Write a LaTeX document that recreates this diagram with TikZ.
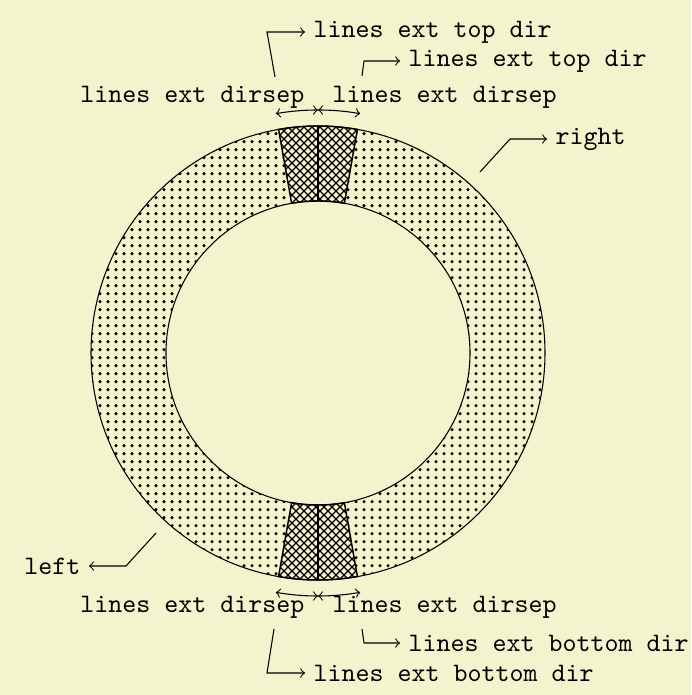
\documentclass[tikz,border=0pt]{standalone}
\usetikzlibrary{calc}
\definecolor{bg}{RGB}{243,243,205}
\begin{document}
\begin{tikzpicture}[x=0.375pt,y=0.375pt,
  lbl/.style={font=\ttfamily, inner sep=3pt},
  leader/.style={->, thin},
  dimarc/.style={<->, thin},
  hatch/.style={line width=0.5pt}]
\fill[bg] (0,0) rectangle (691,695);
\useasboundingbox (0,0) rectangle (691,695);
\coordinate (C) at (318,342);
% ring with dots
\begin{scope}[even odd rule]
  \clip (C) circle[radius=227] (C) circle[radius=152];
  \fill \foreach \i in {0,...,57}{ \foreach \j in {13,...,72}{ (92+8*\i, 1.3+8*\j) circle[radius=1.7] } };
\end{scope}
% sectors
\foreach \a/\b in {80/100, 260/280}{
  \fill[bg] ($(C)+(\a:152)$) -- ($(C)+(\a:227)$) arc[start angle=\a, end angle=\b, radius=227] -- ($(C)+(\b:152)$) arc[start angle=\b, end angle=\a, radius=152] -- cycle;
  \begin{scope}
    \clip ($(C)+(\a:152)$) -- ($(C)+(\a:227)$) arc[start angle=\a, end angle=\b, radius=227] -- ($(C)+(\b:152)$) arc[start angle=\b, end angle=\a, radius=152] -- cycle;
    \draw[hatch] \foreach \c in {-312,-304,...,272}{ (250,250-\c) -- (390,390-\c) };
    \draw[hatch] \foreach \d in {376,384,...,952}{ (250,\d-250) -- (390,\d-390) };
  \end{scope}
  \draw[line width=0.55pt] ($(C)+(\a:152)$) -- ($(C)+(\a:227)$) arc[start angle=\a, end angle=\b, radius=227] -- ($(C)+(\b:152)$) arc[start angle=\b, end angle=\a, radius=152] -- cycle;
}
\draw[line width=0.6pt] ($(C)+(90:152)$) -- ($(C)+(90:227)$);
\draw[line width=0.6pt] ($(C)+(270:152)$) -- ($(C)+(270:227)$);
\draw (C) circle[radius=227];
\draw (C) circle[radius=152];
% dimension arcs
\draw[dimarc] ($(C)+(100:243)$) arc[start angle=100, end angle=90, radius=243];
\draw[dimarc] ($(C)+(90:243)$) arc[start angle=90, end angle=80, radius=243];
\draw[dimarc] ($(C)+(260:243)$) arc[start angle=260, end angle=270, radius=243];
\draw[dimarc] ($(C)+(270:243)$) arc[start angle=270, end angle=280, radius=243];
% labels
\node[lbl, anchor=east] (dsTL) at (313,598) {lines ext dirsep};
\node[lbl, anchor=west] (dsTR) at (324,598) {lines ext dirsep};
\node[lbl, anchor=east] (dsBL) at (313,88) {lines ext dirsep};
\node[lbl, anchor=west] (dsBR) at (324,88) {lines ext dirsep};
\node[lbl, anchor=west] (tt1) at (305,663) {lines ext top dir};
\node[lbl, anchor=west] (tt2) at (400,634) {lines ext top dir};
\node[lbl, anchor=west] (rt) at (547,556) {right};
\node[lbl, anchor=east] (lf) at (89,129) {left};
\node[lbl, anchor=west] (bb2) at (400,52) {lines ext bottom dir};
\node[lbl, anchor=west] (bb1) at (305,22) {lines ext bottom dir};
% leader coordinates
\coordinate (p1) at (275,618); \coordinate (q1) at (267,663);
\coordinate (p2) at (362,619); \coordinate (q2) at (364,634);
\coordinate (p3) at (480,523); \coordinate (q3) at (510,556);
\coordinate (p4) at (156,162); \coordinate (q4) at (126,129);
\coordinate (p5) at (362,66);  \coordinate (q5) at (364,52);
\coordinate (p6) at (274,66);  \coordinate (q6) at (267,22);
\draw[leader] (p1) -- (q1) -- (tt1.west);
\draw[leader] (p2) -- (q2) -- (tt2.west);
\draw[leader] (p3) -- (q3) -- (rt.west);
\draw[leader] (p4) -- (q4) -- (lf.east);
\draw[leader] (p5) -- (q5) -- (bb2.west);
\draw[leader] (p6) -- (q6) -- (bb1.west);
\end{tikzpicture}
\end{document}
